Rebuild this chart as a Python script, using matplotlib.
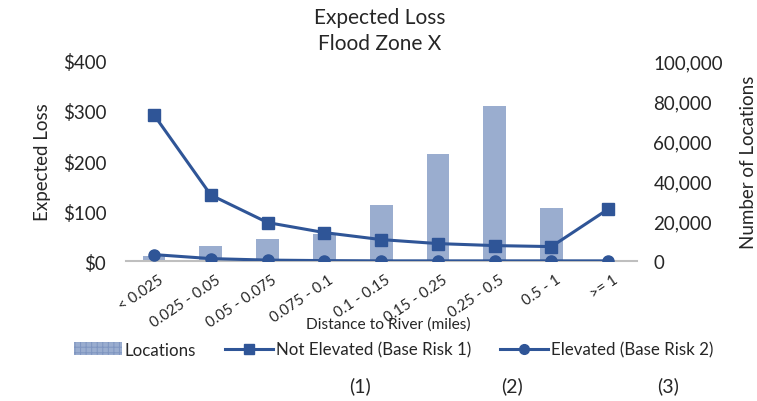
import matplotlib
matplotlib.use("Agg")
import matplotlib.pyplot as plt
from matplotlib.patches import Patch
from matplotlib.lines import Line2D
from matplotlib.ticker import FuncFormatter
import matplotlib.transforms as mtransforms

plt.rcParams['font.family'] = ['Lato', 'DejaVu Sans']
plt.rcParams['hatch.linewidth'] = 0.7

categories = ["< 0.025", "0.025 - 0.05", "0.05 - 0.075", "0.075 - 0.1", "0.1 - 0.15",
              "0.15 - 0.25", "0.25 - 0.5", "0.5 - 1", ">= 1"]
locations = [2700, 7500, 11000, 13500, 28000, 53500, 77700, 26500, 0]
not_elevated = [292, 132, 77, 57, 43, 35, 31, 29, 104]
elevated = [13, 5, 2, 1, 0.5, 0.5, 0.5, 0.5, 0.5]
left_ticks = [0, 100, 200, 300, 400]
right_ticks = [0, 20000, 40000, 60000, 80000, 100000]

line_color = '#2F5597'
bar_color = '#9AADCF'
text_color = '#262626'

fig = plt.figure(figsize=(7.57, 4.02), dpi=100)
ax = fig.add_axes([0.166, 0.348, 0.675, 0.498])
ax2 = ax.twinx()

x = list(range(len(categories)))
ax2.bar(x, locations, width=0.4, color=bar_color, zorder=1)
ax2.set_ylim(0, 100000)
ax2.set_yticks(right_ticks)
ax2.yaxis.set_major_formatter(FuncFormatter(lambda v, p: f"{int(v):,}"))

ax.set_zorder(ax2.get_zorder() + 1)
ax.patch.set_visible(False)
ax.plot(x, not_elevated, color=line_color, lw=2.2, marker='s', ms=8, zorder=3)
ax.plot(x, elevated, color=line_color, lw=2.2, marker='o', ms=8, zorder=3)
ax.set_ylim(0, 400)
ax.set_xlim(-0.5, len(categories) - 0.5)
ax.set_yticks(left_ticks)
ax.yaxis.set_major_formatter(FuncFormatter(lambda v, p: f"${int(v)}"))

for a in (ax, ax2):
    for s in a.spines.values():
        s.set_visible(False)
    a.tick_params(length=0, labelsize=13.5, colors=text_color)
ax.spines['bottom'].set_visible(True)
ax.spines['bottom'].set_color('#BFBFBF')
ax.spines['bottom'].set_linewidth(1.5)
ax.tick_params(axis='y', pad=14)
ax2.tick_params(axis='y', pad=12)

ax.set_xticks(x)
ax.set_xticklabels(categories, rotation=34, ha='right', va='top', rotation_mode='anchor',
                   fontsize=10.8, color=text_color)
ax.tick_params(axis='x', pad=8)
offset = mtransforms.ScaledTranslation(4 / 100, 0, fig.dpi_scale_trans)
for lbl in ax.get_xticklabels():
    lbl.set_transform(lbl.get_transform() + offset)

ax.set_ylabel("Expected Loss", fontsize=13.5, color=text_color, labelpad=8)
ax2.set_ylabel("Number of Locations", fontsize=13.5, color=text_color, labelpad=12)
fig.text(0.513, 0.192, "Distance to River (miles)", ha='center', va='center',
         fontsize=11.2, color=text_color)

fig.text(0.502, 0.955, "Expected Loss", ha='center', va='center', fontsize=15, color=text_color)
fig.text(0.502, 0.89, "Flood Zone X", ha='center', va='center', fontsize=15, color=text_color)

handles = [
    Patch(facecolor=bar_color, edgecolor='#7f95c0', linewidth=0, hatch='+++'),
    Line2D([0], [0], color=line_color, lw=2.2, marker='s', ms=7),
    Line2D([0], [0], color=line_color, lw=2.2, marker='o', ms=7),
]
labels = ["Locations", "Not Elevated (Base Risk 1)", "Elevated (Base Risk 2)"]
fig.legend(handles, labels, loc='center', bbox_to_anchor=(0.52, 0.128), ncol=3,
           frameon=False, fontsize=12.2, handlelength=2.85, handleheight=0.75,
           handletextpad=0.15, columnspacing=1.7, labelcolor=text_color)

fig.text(0.476, 0.04, "(1)", ha='center', va='center', fontsize=14, color=text_color)
fig.text(0.677, 0.04, "(2)", ha='center', va='center', fontsize=14, color=text_color)
fig.text(0.883, 0.04, "(3)", ha='center', va='center', fontsize=14, color=text_color)

fig.savefig("out.png", dpi=100, facecolor='white')
